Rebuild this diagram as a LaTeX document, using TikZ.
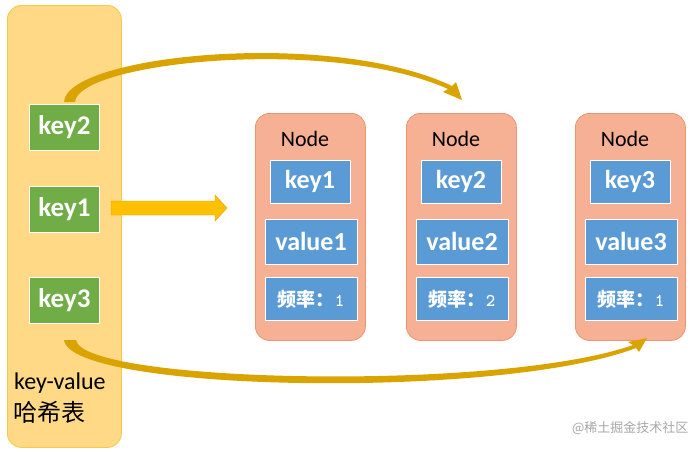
\documentclass[tikz,border=0pt]{standalone}
\usepackage{fontspec}
\setmainfont{Carlito}
\newfontfamily\cjk{Noto Sans CJK SC}
\begin{document}
\begin{tikzpicture}[x=1pt,y=-1pt,
  panel/.style={draw=pnb,fill=pnc,rounded corners=14pt,line width=0.8pt},
  gk/.style={draw=white,line width=1pt,fill=gkc,text=white,font=\fontsize{27}{27}\selectfont\bfseries,minimum width=70pt,minimum height=46pt,inner sep=0pt},
  nd/.style={draw=ndb,fill=ndc,rounded corners=14pt,line width=0.8pt},
  bx/.style={draw=white,line width=1pt,fill=bxc,text=white,font=\fontsize{26}{26}\selectfont\bfseries,inner sep=0pt},
  arr/.style={fill=arc}]
\definecolor{gkc}{HTML}{70AD47}
\definecolor{pnc}{HTML}{FFD986}
\definecolor{pnb}{HTML}{F7C948}
\definecolor{ndc}{HTML}{F6B195}
\definecolor{ndb}{HTML}{EE9470}
\definecolor{bxc}{HTML}{5B9BD5}
\definecolor{arc}{HTML}{D9A300}
\definecolor{sta}{HTML}{FFC000}
\useasboundingbox (0,0) rectangle (699,451);
\node[panel,minimum width=114pt,minimum height=442pt,anchor=north west] (panel) at (7,5) {};
\node[gk] (k2) at (64.5,127.5) {key2};
\node[gk] (k1) at (64.5,209.5) {key1};
\node[gk] (k3) at (64.5,300) {key3};
\node[anchor=west,inner sep=0pt,font=\fontsize{24}{24}\selectfont] (kv) at (14,383) {key-value};
\node[anchor=west,inner sep=0pt,font=\cjk\fontsize{24}{24}\selectfont] (hx) at (13,412) {哈希表};
\foreach \i/\x/\k/\v/\f in {1/255/key1/value1/1,2/406/key2/value2/2,3/575/key3/value3/1}{
  \node[nd,minimum width=110pt,minimum height=227pt,anchor=north west] (n\i) at (\x,113) {};
  \node[font=\fontsize{22}{22}\selectfont] (t\i) at (\x+50,139) {Node};
  \node[bx,minimum width=80pt,minimum height=43pt] (a\i) at (\x+55,181.5) {\k};
  \node[bx,minimum width=92pt,minimum height=45pt] (b\i) at (\x+56,241.5) {\v};
  \node[bx,minimum width=92pt,minimum height=43pt] (c\i) at (\x+56,299) {{\cjk\bfseries\fontsize{19}{19}\selectfont 频率：}{\fontsize{18}{18}\selectfont\ttfamily\bfseries\f}};
}
% straight arrow
\fill[fill=sta,draw=arc] (111,201) -- (215,201) -- (215,195) -- (227,208) -- (215,221) -- (215,215) -- (111,215) -- cycle;
% top swoosh
\fill[arr] (64,102) .. controls (66,55) and (330,28) .. (452,86) -- (456,82) -- (462,100) -- (443,92) -- (448,89)
  .. controls (330,36) and (78,62) .. (75,102) -- cycle;
% bottom swoosh
\fill[arr] (64,340) .. controls (70,392) and (500,400) .. (636,348) -- (639,352) -- (647,338) -- (628,342) -- (633,345)
  .. controls (500,392) and (82,383) .. (76,340) -- cycle;
\node[anchor=east,text=gray!70,font=\cjk\fontsize{13}{13}\selectfont] (wm) at (692,428) {@稀土掘金技术社区};
\end{tikzpicture}
\end{document}
